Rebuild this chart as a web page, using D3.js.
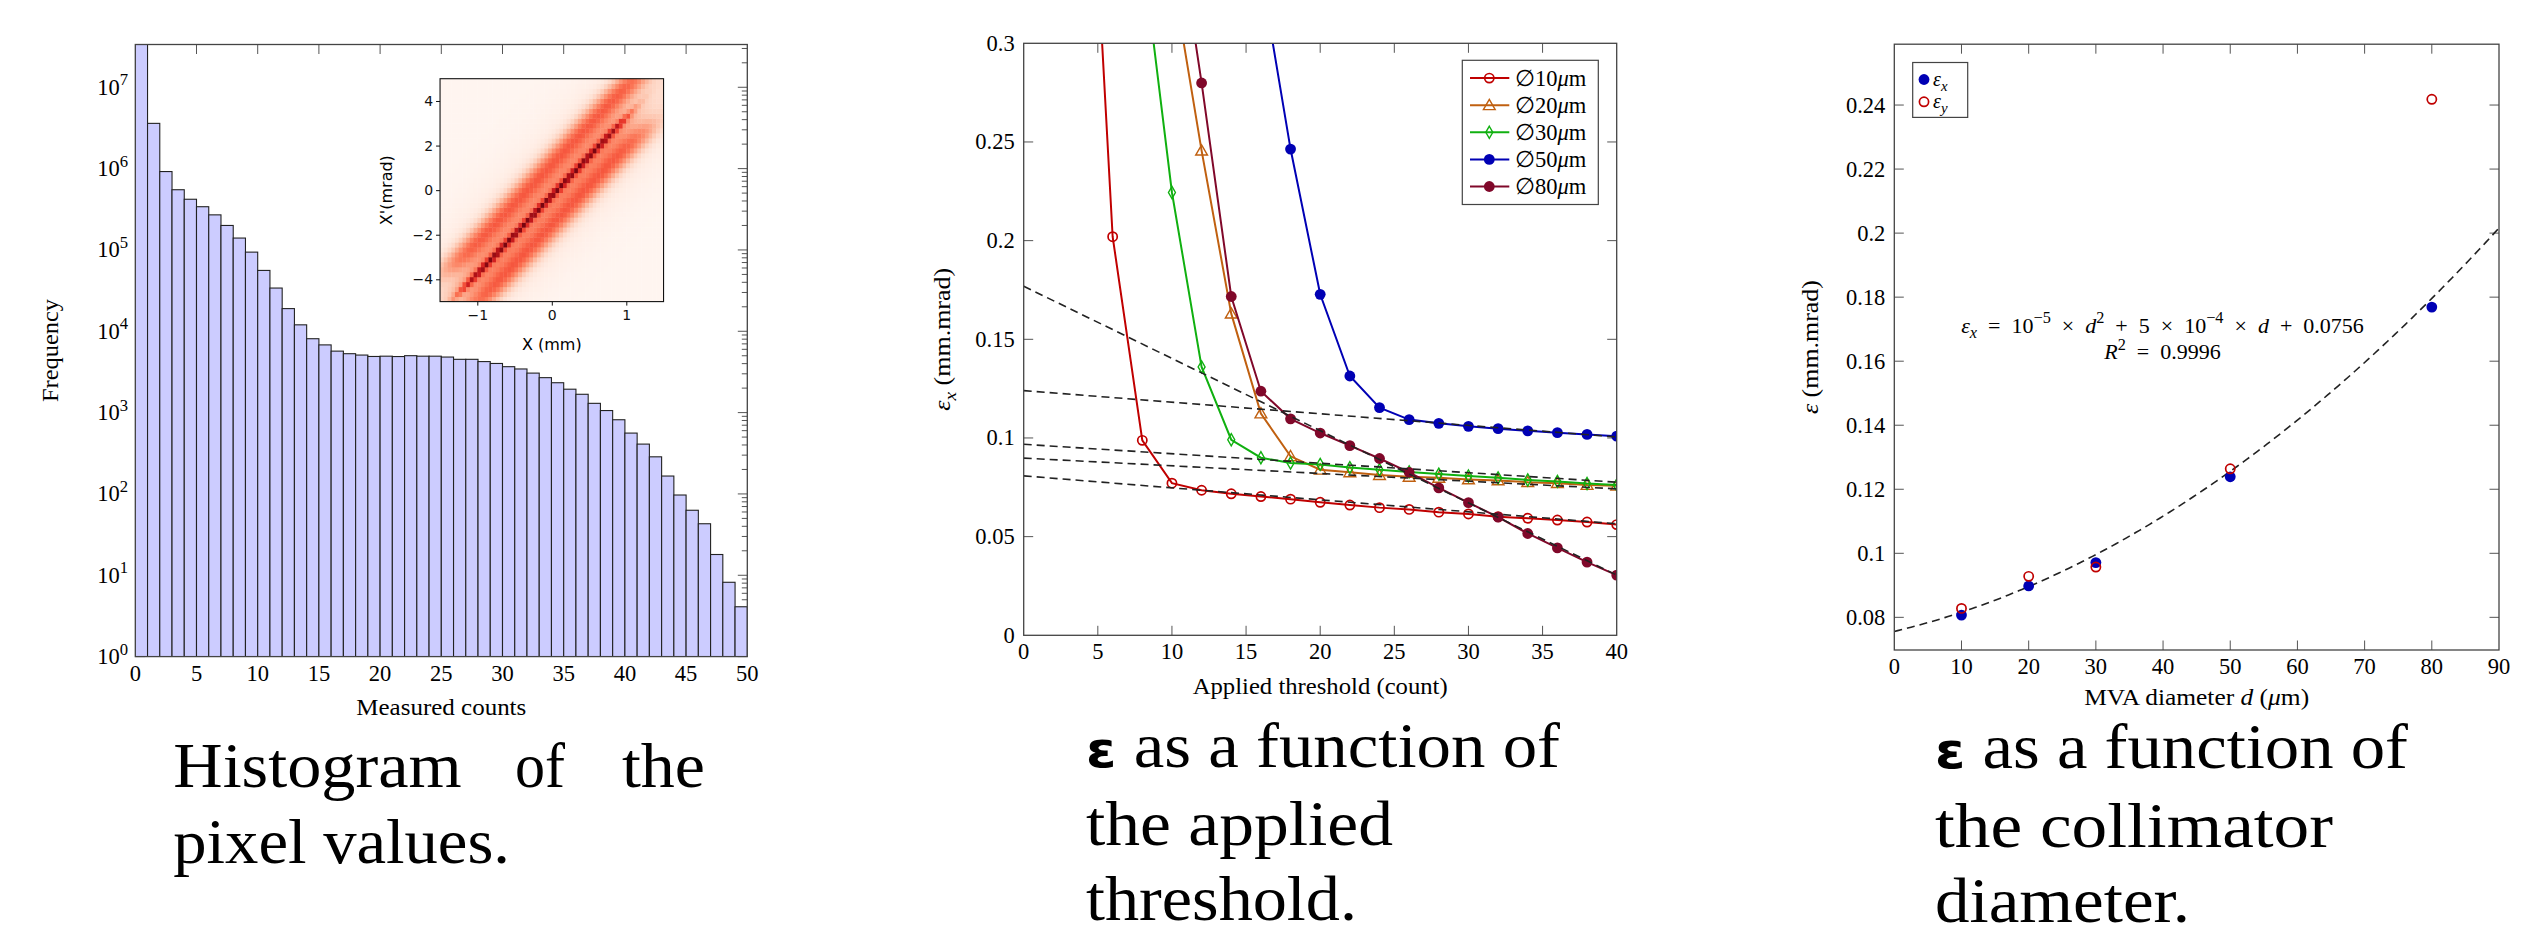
<!DOCTYPE html>
<html>
<head>
<meta charset="utf-8">
<script src="https://cdn.jsdelivr.net/npm/d3@7"></script>
<style>
  body { margin: 0; background: #fff; }
  text { white-space: pre; }
</style>
</head>
<body>
<script>
const W = 2532
const H = 937
const serif = "'Liberation Serif', 'Times New Roman', serif"
const sans = "'DejaVu Sans', sans-serif"
const fs = 22.5

// ---------- data ----------
// histogram of pixel values, one count per bin (bins 0..49)
const histCounts = [
  3.4e7, 3.6e6, 9.2e5, 5.5e5, 4.2e5, 3.4e5, 2.7e5, 2.0e5, 1.4e5, 9.4e4,
  5.6e4, 3.4e4, 1.9e4, 1.2e4, 8.1e3, 6.8e3, 5.7e3, 5.3e3, 5.1e3, 4.9e3,
  4940, 4890, 5010, 4940, 4940, 4820, 4520, 4520, 4240, 4020,
  3670, 3440, 3060, 2690, 2330, 1940, 1680, 1300, 1060, 817,
  560, 410, 286, 166, 97, 63, 43, 18, 8.2, 4.1
]

// inset phase space: parameters of the ridge and the bands
const ridgeSlope = 3.52
const ridgeIntercept = -0.23
const bandOffset = [0, 0, -0.4, 0.38, 0]
const bandWidth = [0.04, 0.13, 0.16, 0.16, 0.6]
const bandAmp = [0.5, 0.3, 0.45, 0.45, 0.12]
const bandYmin = [-4.6, -4.6, -3.6, -5.6, -5.6]
const bandYmax = [3.4, 3.4, 5.6, 2.9, 5.6]

// emittance vs applied threshold
const thresholds = [4, 6, 8, 10, 12, 14, 16, 18, 20, 22, 24, 26, 28, 30, 32, 34, 36, 38, 40]
const emit10 = [0.478, 0.202, 0.0988, 0.0771, 0.0735, 0.0717, 0.0703, 0.069, 0.0674, 0.066, 0.0647, 0.0638, 0.0624, 0.0615, 0.0601, 0.0593, 0.0584, 0.0574, 0.0561]
const emit20 = [null, null, null, 0.336, 0.2456, 0.163, 0.1124, 0.0907, 0.0839, 0.0826, 0.0812, 0.0803, 0.0798, 0.079, 0.0785, 0.0776, 0.0771, 0.0762, 0.0758]
const emit30 = [null, null, 0.347, 0.2244, 0.136, 0.0991, 0.090, 0.0873, 0.0866, 0.085, 0.0839, 0.0828, 0.0817, 0.0807, 0.0798, 0.0787, 0.078, 0.0769, 0.0762]
const emit50 = [null, null, null, null, null, null, 0.336, 0.2464, 0.1728, 0.1314, 0.1154, 0.1093, 0.1074, 0.1059, 0.1047, 0.1036, 0.1027, 0.1018, 0.1009]
const emit80 = [null, null, null, 0.38, 0.2799, 0.1717, 0.1237, 0.1097, 0.1025, 0.0961, 0.0896, 0.0826, 0.0747, 0.0672, 0.0599, 0.0516, 0.0443, 0.0371, 0.0305]
const seriesNames = ['10', '20', '30', '50', '80']
// linear fits (value at threshold 0 and at threshold 40)
const fitAt0 = [0.0808, 0.0898, 0.0968, 0.124, 0.1769]
const fitAt40 = [0.0565, 0.0742, 0.0776, 0.1005, 0.0305]

// emittance vs collimator diameter
const diameters = [10, 20, 30, 50, 80]
const emitX = [0.0807, 0.0898, 0.0971, 0.1239, 0.1769]
const emitY = [0.0828, 0.0928, 0.0957, 0.1264, 0.2418]
const fitCoef = [1e-5, 5e-4, 0.0756]

// ---------- helpers ----------
const svg = d3.select('body').append('svg')
  .attr('width', W)
  .attr('height', H)
  .style('font-family', serif)

svg.append('rect').attr('width', W).attr('height', H).attr('fill', '#fff')

// parts: strings or {t, s: 'sup'|'sub', i: italic}
function rich (sel, parts, size) {
  let shift = 0
  parts.forEach(p => {
    const part = typeof p === 'string' ? { t: p } : p
    const target = part.s === 'sup' ? -0.42 * size : part.s === 'sub' ? 0.25 * size : 0
    const ts = sel.append('tspan').attr('dy', target - shift).text(part.t)
    shift = target
    if (part.s) ts.attr('font-size', size * 0.74)
    if (part.i) ts.attr('font-style', 'italic')
  })
  return sel
}

function frame (g, x, y, color = '#444') {
  g.append('rect')
    .attr('x', x.range()[0]).attr('y', y.range()[1])
    .attr('width', x.range()[1] - x.range()[0])
    .attr('height', y.range()[0] - y.range()[1])
    .attr('fill', 'none').attr('stroke', color).attr('stroke-width', 1.3)
}

function xTicks (g, x, y, values, len = 9.5) {
  const [y0, y1] = y.range()
  values.forEach(v => {
    g.append('line').attr('x1', x(v)).attr('x2', x(v)).attr('y1', y0).attr('y2', y0 - len)
      .attr('stroke', '#555').attr('stroke-width', 1)
    g.append('line').attr('x1', x(v)).attr('x2', x(v)).attr('y1', y1).attr('y2', y1 + len)
      .attr('stroke', '#555').attr('stroke-width', 1)
  })
}

function yTicks (g, x, y, values, len = 9.5) {
  const [x0, x1] = x.range()
  values.forEach(v => {
    g.append('line').attr('x1', x0).attr('x2', x0 + len).attr('y1', y(v)).attr('y2', y(v))
      .attr('stroke', '#555').attr('stroke-width', 1)
    g.append('line').attr('x1', x1).attr('x2', x1 - len).attr('y1', y(v)).attr('y2', y(v))
      .attr('stroke', '#555').attr('stroke-width', 1)
  })
}

function xLabels (g, x, y, values, fmt = d => d) {
  g.selectAll(null).data(values).enter().append('text')
    .attr('x', d => x(d)).attr('y', y.range()[0] + 24)
    .attr('text-anchor', 'middle').attr('font-size', fs)
    .text(fmt)
}

function yLabels (g, x, y, values, fmt = d => d) {
  g.selectAll(null).data(values).enter().append('text')
    .attr('x', x.range()[0] - 9).attr('y', d => y(d) + 7.5)
    .attr('text-anchor', 'end').attr('font-size', fs)
    .text(fmt)
}

function marker (g, kind, cx, cy, color) {
  if (kind === 'o') {
    g.append('circle').attr('cx', cx).attr('cy', cy).attr('r', 4.6)
      .attr('fill', 'none').attr('stroke', color).attr('stroke-width', 1.7)
  } else if (kind === 'dot') {
    g.append('circle').attr('cx', cx).attr('cy', cy).attr('r', 5.4).attr('fill', color)
  } else {
    const type = kind === 'tri' ? d3.symbolTriangle : d3.symbolDiamond
    g.append('path')
      .attr('d', d3.symbol(type, kind === 'tri' ? 60 : 42)())
      .attr('transform', `translate(${cx},${cy + (kind === 'tri' ? 1 : 0)})`)
      .attr('fill', 'none').attr('stroke', color).attr('stroke-width', 1.4)
  }
}

// ========== Panel 1: histogram ==========
const hx = d3.scaleLinear().domain([0, 50]).range([135.3, 747.3])
const hy = d3.scaleLog().domain([1, Math.pow(10, 7.526)]).range([656.6, 44.5])
const p1 = svg.append('g')

svg.append('clipPath').attr('id', 'clip1').append('rect')
  .attr('x', 135.3).attr('y', 44.5).attr('width', 612).attr('height', 612.1)

// ticks first, bars cover them
xTicks(p1, hx, hy, d3.range(5, 50, 5))
const decades = d3.range(0, 8).map(k => Math.pow(10, k))
yTicks(p1, hx, hy, decades)
const minors = []
decades.forEach(d => d3.range(2, 10).forEach(m => { if (d * m < hy.domain()[1]) minors.push(d * m) }))
yTicks(p1, hx, hy, minors, 5.5)

p1.append('g').attr('clip-path', 'url(#clip1)')
  .selectAll('rect').data(histCounts).enter().append('rect')
  .attr('x', (d, i) => hx(i))
  .attr('width', (d, i) => hx(i + 1) - hx(i))
  .attr('y', d => hy(d))
  .attr('height', d => hy(1) - hy(d))
  .attr('fill', '#ccccff')
  .attr('stroke', '#222')
  .attr('stroke-width', 1.1)

frame(p1, hx, hy)
xLabels(p1, hx, hy, d3.range(0, 51, 5))

decades.forEach((d, k) => {
  rich(p1.append('text')
    .attr('x', 128).attr('y', hy(d) + 7.5)
    .attr('text-anchor', 'end').attr('font-size', fs), ['10', { t: String(k), s: 'sup' }], fs)
})

p1.append('text')
  .attr('x', (hx.range()[0] + hx.range()[1]) / 2).attr('y', 715)
  .attr('text-anchor', 'middle').attr('font-size', fs)
  .attr('textLength', 170).attr('lengthAdjust', 'spacingAndGlyphs')
  .text('Measured counts')

p1.append('text')
  .attr('transform', `translate(58, ${(hy.range()[0] + hy.range()[1]) / 2}) rotate(-90)`)
  .attr('text-anchor', 'middle').attr('font-size', fs)
  .attr('textLength', 103).attr('lengthAdjust', 'spacingAndGlyphs')
  .text('Frequency')

// ---------- inset: phase space ----------
const ix = d3.scaleLinear().domain([-1.5, 1.5]).range([440.05, 663.55])
const iy = d3.scaleLinear().domain([-5, 5]).range([301.6, 78.7])
const inset = svg.append('g')

const nx = 60
const ny = 45
const cells = []
for (let i = 0; i < nx; i++) {
  for (let j = 0; j < ny; j++) {
    const X = -1.5 + (i + 0.5) * 3 / nx
    const Y = -5 + (j + 0.5) * 10 / ny
    const off = X - (Y - ridgeIntercept) / ridgeSlope
    let v = 0
    bandAmp.forEach((a, b) => {
      const env = 1 / (1 + Math.exp(-(Y - bandYmin[b]) / 0.35)) *
        1 / (1 + Math.exp(-(bandYmax[b] - Y) / 0.35))
      v += a * Math.exp(-0.5 * Math.pow((off - bandOffset[b]) / bandWidth[b], 2)) * env
    })
    cells.push({ i, j, v })
  }
}

inset.selectAll('rect.cell').data(cells).enter().append('rect')
  .attr('class', 'cell')
  .attr('x', d => ix(-1.5 + d.i * 3 / nx))
  .attr('y', d => iy(-5 + (d.j + 1) * 10 / ny))
  .attr('width', (ix.range()[1] - ix.range()[0]) / nx + 0.4)
  .attr('height', (iy.range()[0] - iy.range()[1]) / ny + 0.4)
  .attr('fill', d => d3.interpolateReds(Math.min(1, d.v)))

inset.append('rect')
  .attr('x', ix.range()[0]).attr('y', iy.range()[1])
  .attr('width', ix.range()[1] - ix.range()[0])
  .attr('height', iy.range()[0] - iy.range()[1])
  .attr('fill', 'none').attr('stroke', '#111').attr('stroke-width', 1.1)

const minus = d => d < 0 ? '\u2212' + Math.abs(d) : d
const ixAxis = inset.append('g')
  .attr('transform', `translate(0, ${iy.range()[0]})`)
  .call(d3.axisBottom(ix).tickValues([-1, 0, 1]).tickSize(4).tickFormat(minus))
const iyAxis = inset.append('g')
  .attr('transform', `translate(${ix.range()[0]}, 0)`)
  .call(d3.axisLeft(iy).tickValues([-4, -2, 0, 2, 4]).tickSize(4).tickFormat(minus))
;[ixAxis, iyAxis].forEach(a => {
  a.select('.domain').remove()
  a.selectAll('text').attr('font-family', sans).attr('font-size', 14).attr('fill', '#111')
  a.selectAll('line').attr('stroke', '#111')
})
ixAxis.selectAll('text').attr('dy', '0.85em')

inset.append('text')
  .attr('x', ix(0)).attr('y', 350)
  .attr('text-anchor', 'middle').attr('font-family', sans).attr('font-size', 16)
  .text('X (mm)')
inset.append('text')
  .attr('transform', `translate(392, ${iy(0)}) rotate(-90)`)
  .attr('text-anchor', 'middle').attr('font-family', sans).attr('font-size', 16)
  .text("X'(mrad)")

// ========== Panel 2: emittance vs threshold ==========
const tx = d3.scaleLinear().domain([0, 40]).range([1023.7, 1616.7])
const ty = d3.scaleLinear().domain([0, 0.3]).range([635.3, 43.3])
const p2 = svg.append('g')

svg.append('clipPath').attr('id', 'clip2').append('rect')
  .attr('x', 1023.7).attr('y', 43.3).attr('width', 593).attr('height', 592)

xTicks(p2, tx, ty, d3.range(5, 40, 5))
yTicks(p2, tx, ty, [0.05, 0.1, 0.15, 0.2, 0.25])

const series = [
  { name: seriesNames[0], values: emit10, color: '#c00000', mark: 'o' },
  { name: seriesNames[1], values: emit20, color: '#c06010', mark: 'tri' },
  { name: seriesNames[2], values: emit30, color: '#10b010', mark: 'dia' },
  { name: seriesNames[3], values: emit50, color: '#0000b4', mark: 'dot' },
  { name: seriesNames[4], values: emit80, color: '#80082a', mark: 'dot' }
]

const plot2 = p2.append('g').attr('clip-path', 'url(#clip2)')
const line2 = d3.line()
  .defined(d => d[1] !== null)
  .x(d => tx(d[0]))
  .y(d => ty(d[1]))

series.forEach(s => {
  const pts = thresholds.map((t, i) => [t, s.values[i]])
  plot2.append('path')
    .attr('d', line2(pts))
    .attr('fill', 'none').attr('stroke', s.color).attr('stroke-width', 2)
  pts.filter(d => d[1] !== null).forEach(d => marker(plot2, s.mark, tx(d[0]), ty(d[1]), s.color))
})

// dashed linear fits
fitAt0.forEach((v0, i) => {
  plot2.append('line')
    .attr('x1', tx(0)).attr('y1', ty(v0))
    .attr('x2', tx(40)).attr('y2', ty(fitAt40[i]))
    .attr('stroke', '#222').attr('stroke-width', 1.6).attr('stroke-dasharray', '8,5')
})

frame(p2, tx, ty)
xLabels(p2, tx, ty, d3.range(0, 41, 5))
yLabels(p2, tx, ty, [0, 0.05, 0.1, 0.15, 0.2, 0.25, 0.3])

p2.append('text')
  .attr('x', (tx.range()[0] + tx.range()[1]) / 2).attr('y', 694)
  .attr('text-anchor', 'middle').attr('font-size', fs)
  .attr('textLength', 255).attr('lengthAdjust', 'spacingAndGlyphs')
  .text('Applied threshold (count)')

rich(p2.append('text')
  .attr('transform', `translate(950, ${(ty.range()[0] + ty.range()[1]) / 2}) rotate(-90)`)
  .attr('text-anchor', 'middle').attr('font-size', fs)
  .attr('textLength', 143).attr('lengthAdjust', 'spacingAndGlyphs'),
  [{ t: '\u03b5', i: true }, { t: 'x', s: 'sub', i: true }, ' (mm.mrad)'], fs)

// legend
const lg2 = p2.append('g')
lg2.append('rect')
  .attr('x', 1462.3).attr('y', 60.3).attr('width', 136).attr('height', 144.2)
  .attr('fill', '#fff').attr('stroke', '#444').attr('stroke-width', 1.2)
series.forEach((s, i) => {
  const ly = 78.1 + i * 27.1
  lg2.append('line').attr('x1', 1470).attr('x2', 1509.3).attr('y1', ly).attr('y2', ly)
    .attr('stroke', s.color).attr('stroke-width', 2)
  marker(lg2, s.mark, 1489.3, ly, s.color)
  rich(lg2.append('text').attr('x', 1515).attr('y', ly + 7.5).attr('font-size', fs),
    ['\u2205' + s.name, { t: '\u03bc', i: true }, 'm'], fs)
})

// ========== Panel 3: emittance vs collimator diameter ==========
const dx = d3.scaleLinear().domain([0, 90]).range([1894.3, 2499])
const dy = d3.scaleLinear().domain([0.0698, 0.259]).range([650, 44.2])
const p3 = svg.append('g')
const yTickVals = [0.08, 0.1, 0.12, 0.14, 0.16, 0.18, 0.2, 0.22, 0.24]

xTicks(p3, dx, dy, d3.range(10, 90, 10))
yTicks(p3, dx, dy, yTickVals)

const fitLine = d3.line()
  .x(d => dx(d))
  .y(d => dy(fitCoef[0] * d * d + fitCoef[1] * d + fitCoef[2]))
p3.append('path')
  .attr('d', fitLine(d3.range(0, 90.5, 0.5)))
  .attr('fill', 'none').attr('stroke', '#222').attr('stroke-width', 1.6)
  .attr('stroke-dasharray', '8,5')

diameters.forEach((d, i) => marker(p3, 'dot', dx(d), dy(emitX[i]), '#0000b4'))
diameters.forEach((d, i) => marker(p3, 'o', dx(d), dy(emitY[i]), '#c00000'))

frame(p3, dx, dy)
xLabels(p3, dx, dy, d3.range(0, 91, 10))
yLabels(p3, dx, dy, yTickVals, d => d3.format('.2~f')(d))

p3.append('text')
  .attr('x', (dx.range()[0] + dx.range()[1]) / 2).attr('y', 705)
  .attr('text-anchor', 'middle').attr('font-size', fs)
  .attr('textLength', 225).attr('lengthAdjust', 'spacingAndGlyphs')
  .call(t => rich(t, ['MVA diameter ', { t: 'd', i: true }, ' (', { t: '\u03bc', i: true }, 'm)'], fs))

rich(p3.append('text')
  .attr('transform', `translate(1818, ${(dy.range()[0] + dy.range()[1]) / 2}) rotate(-90)`)
  .attr('text-anchor', 'middle').attr('font-size', fs)
  .attr('textLength', 134).attr('lengthAdjust', 'spacingAndGlyphs'),
  [{ t: '\u03b5', i: true }, ' (mm.mrad)'], fs)

// fit annotation (en spaces around operators, like TeX math spacing)
const sp = '\u2002'
rich(p3.append('text')
  .attr('x', 2162.5).attr('y', 332.6)
  .attr('text-anchor', 'middle').attr('font-size', 22),
  [{ t: '\u03b5', i: true }, { t: 'x', s: 'sub', i: true }, `${sp}=${sp}10`, { t: '\u22125', s: 'sup' },
    `${sp}\u00d7${sp}`, { t: 'd', i: true }, { t: '2', s: 'sup' }, `${sp}+${sp}5${sp}\u00d7${sp}10`, { t: '\u22124', s: 'sup' },
    `${sp}\u00d7${sp}`, { t: 'd', i: true }, `${sp}+${sp}0.0756`], 22)
rich(p3.append('text')
  .attr('x', 2162.5).attr('y', 359.4)
  .attr('text-anchor', 'middle').attr('font-size', 22),
  [{ t: 'R', i: true }, { t: '2', s: 'sup' }, `${sp}=${sp}0.9996`], 22)

// legend
const lg3 = p3.append('g')
lg3.append('rect')
  .attr('x', 1912.7).attr('y', 62.5).attr('width', 55).attr('height', 54.9)
  .attr('fill', '#fff').attr('stroke', '#444').attr('stroke-width', 1.2)
marker(lg3, 'dot', 1924, 79.5, '#0000b4')
marker(lg3, 'o', 1924, 101.8, '#c00000')
rich(lg3.append('text').attr('x', 1933).attr('y', 85.5).attr('font-size', 20),
  [{ t: '\u03b5', i: true }, { t: 'x', s: 'sub', i: true }], 20)
rich(lg3.append('text').attr('x', 1933).attr('y', 107.8).attr('font-size', 20),
  [{ t: '\u03b5', i: true }, { t: 'y', s: 'sub', i: true }], 20)

// ========== captions ==========
const capSize = 63
const cap = svg.append('g').attr('font-size', capSize).attr('fill', '#000')

function capLine (x, y, len, parts) {
  const t = cap.append('text').attr('x', x).attr('y', y)
    .attr('textLength', len).attr('lengthAdjust', 'spacingAndGlyphs')
  parts.forEach(p => {
    const ts = t.append('tspan').text(p.t || p)
    if (p.eps) ts.attr('font-family', sans).attr('font-weight', 'bold').attr('font-size', 50)
  })
}

capLine(173.3, 786.7, 288.4, ['Histogram'])
capLine(515, 786.7, 50, ['of'])
capLine(622, 786.7, 83, ['the'])
capLine(173.3, 863.3, 336.7, ['pixel values.'])

capLine(1086, 767.3, 474, [{ t: '\u03b5', eps: true }, ' as a function of'])
capLine(1086, 845, 307, ['the applied'])
capLine(1086, 920, 271, ['threshold.'])

capLine(1935, 768.3, 473, [{ t: '\u03b5', eps: true }, ' as a function of'])
capLine(1935, 846.7, 398, ['the collimator'])
capLine(1935, 921.7, 255, ['diameter.'])
</script>
</body>
</html>
